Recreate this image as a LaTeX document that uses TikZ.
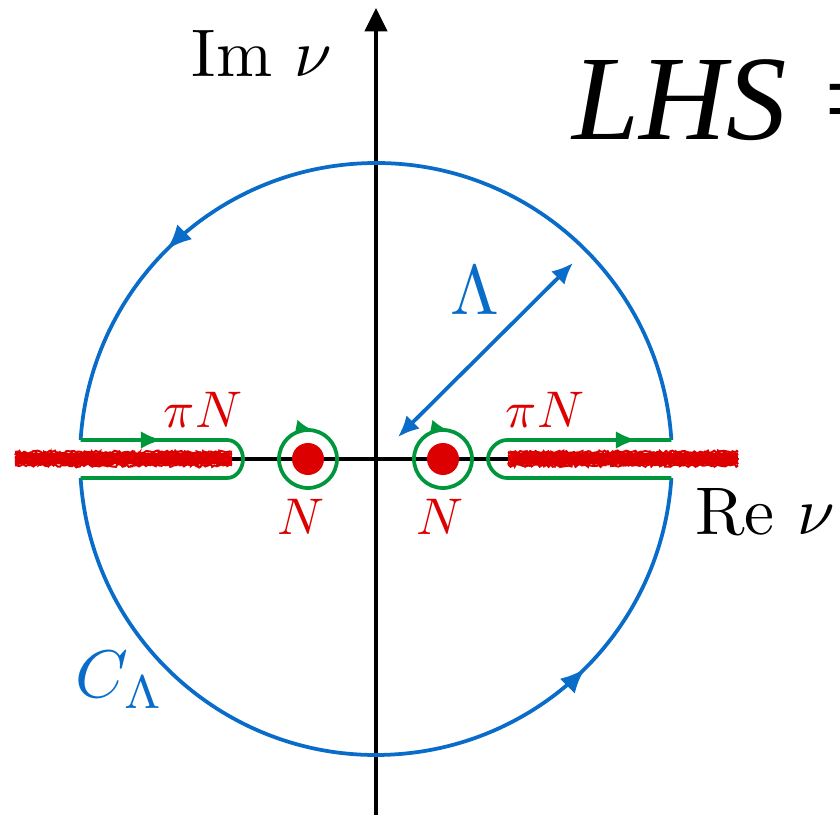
\documentclass[tikz,border=0pt]{standalone}
\usepackage{fontspec}
\newfontfamily\timesfont{Liberation Serif}
\usetikzlibrary{arrows.meta,decorations.markings,decorations.pathmorphing}
\definecolor{cblue}{RGB}{8,108,200}
\definecolor{cred}{RGB}{220,0,0}
\definecolor{cgreen}{RGB}{0,150,60}
\tikzset{
  axis/.style={line width=3pt,black},
  contour/.style={line width=3.2pt,cblue},
  keyhole/.style={line width=3.2pt,cgreen},
  cutline/.style={line width=1.7pt,cred,decorate,decoration={random steps,segment length=1.5pt,amplitude=1.2pt}},
  redlbl/.style={text=cred,inner sep=0pt,scale=4.4},
  greenarrow/.style={-{Latex[length=18pt,width=15pt]}},
}
\begin{document}
\begin{tikzpicture}[x=0.03cm,y=0.03cm]
\useasboundingbox (-376,-356) rectangle (464,459);
\pgfmathsetseed{7}
% axes
\draw[axis] (-361,0) coordinate (xl) -- (362,0) coordinate (xr);
\draw[axis,-{Triangle[length=20pt,width=19pt]}] (0,-356) coordinate (yb) -- (0,451) coordinate (yt);
% red cuts
\fill[cred] (-360,-5.5) rectangle (-146,5.5);
\fill[cred] (134,-5.5) rectangle (361,5.5);
\foreach \yy in {-6.5,-5,-3.5,-2,-0.5,1,2.5,4,5.5,7} {
  \draw[cutline] (-361,\yy) -- (-144,\yy);
  \draw[cutline] (132,\yy) -- (362,\yy);
}
% big circle arcs
\draw[contour,postaction={decorate},decoration={markings,mark=at position 0.76 with {\arrow{Latex[length=21pt,width=18pt]}}}]
  (3.68:296) arc[start angle=3.68,end angle=176.32,radius=296];
\draw[contour,postaction={decorate},decoration={markings,mark=at position 0.76 with {\arrow{Latex[length=21pt,width=18pt]}}}]
  (183.68:296) arc[start angle=183.68,end angle=356.32,radius=296];
% keyholes
\draw[keyhole,line join=round] (-295.4,19) -- (-149,19) .. controls (-139,19) and (-133,9) .. (-133,0)
  .. controls (-133,-9) and (-139,-19) .. (-149,-19) -- (-295.4,-19);
\draw[keyhole,greenarrow] (-295,19) -- (-214,19);
\draw[keyhole,line join=round] (295.4,19) -- (131,19) .. controls (121,19) and (112,9) .. (112,0)
  .. controls (112,-9) and (121,-19) .. (131,-19) -- (295.4,-19);
\draw[keyhole,greenarrow] (131,19) -- (261,19);
% poles
\fill[cred] (-68,0) circle[radius=16];
\fill[cred] (67,0) circle[radius=16];
\foreach \cx in {-68,67} {
  \draw[keyhole,postaction={decorate},decoration={markings,mark=at position 0.28 with {\arrow{Latex[length=15pt,width=13pt]}}}]
    (\cx,0) ++(180:29) arc[start angle=180,end angle=-180,radius=29];
}
% Lambda arrow
\coordinate (la) at (22,22);
\coordinate (lb) at (197,196);
\draw[line width=3.2pt,cblue,{Latex[length=18pt,width=16pt]}-{Latex[length=18pt,width=16pt]}] (la) -- (lb);
% labels
\node[text=cblue,inner sep=0pt,scale=6] (lam) at (99,169) {$\Lambda$};
\node[redlbl] (pnl) at (-173,49) {$\pi N$};
\node[redlbl] (pnr) at (169,49) {$\pi N$};
\node[redlbl] (nl) at (-75,-58) {$N$};
\node[redlbl] (nr) at (64,-58) {$N$};
\node[inner sep=0pt,scale=5.75] (re) at (389,-53) {Re $\nu$};
\node[inner sep=0pt,scale=5.75] (im) at (-114,405) {Im $\nu$};
\node[text=cblue,inner sep=0pt,scale=5.75] (cl) at (-256,-221) {$C_\Lambda$};
\node[inner sep=0pt,anchor=base west] (lhs) at (196,319) {\timesfont\itshape\fontsize{103}{110}\selectfont LHS =};
\end{tikzpicture}
\end{document}
